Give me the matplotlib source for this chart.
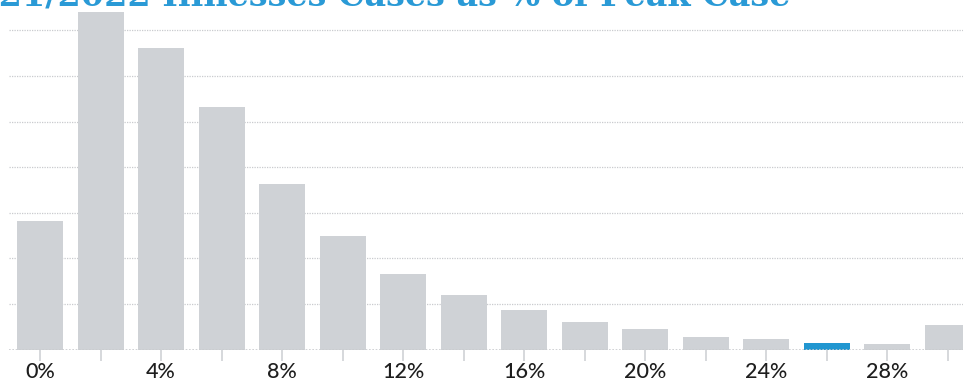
import matplotlib
matplotlib.use("Agg")
import matplotlib.pyplot as plt
from matplotlib.ticker import FixedLocator, FuncFormatter

# Histogram bins: share of peak case (%), bin centres every 2%
bin_pct = [0, 2, 4, 6, 8, 10, 12, 14, 16, 18, 20, 22, 24, 26, 28, 30]
counts = [28.2, 74.0, 66.1, 53.2, 36.3, 24.9, 16.6, 12.0, 8.7, 6.0, 4.5, 2.7, 2.3, 1.4, 1.2, 5.4]
highlight_pct = 26
tick_labels_pct = [0, 4, 8, 12, 16, 20, 24, 28]
title = "2021/2022 Illnesses Cases as % of Peak Case"

GREY = "#cfd2d6"
BLUE = "#2196d0"
GRID = "#c9cbce"

W, H = 963, 381
fig = plt.figure(figsize=(W / 100, H / 100), dpi=100)

# axes box in pixels: left 9, right 975 (runs past the edge), bottom 31.5, top 7.5
left, right, bottom, top = 9, 975, 31.5, H - 7.5
ax = fig.add_axes([left / W, bottom / H, (right - left) / W, (top - bottom) / H])

colors = [BLUE if p == highlight_pct else GREY for p in bin_pct]
ax.bar(bin_pct, counts, width=1.52, color=colors, zorder=3)

ax.set_xlim(-1.025, 30.9)
ax.set_ylim(0, 75)

for y in range(10, 80, 10):
    ax.axhline(y, color=GRID, lw=0.9, ls=(0, (1, 1)), zorder=1)
ax.axhline(0, color=GRID, lw=1.2, ls=(0, (1, 1)), zorder=4)

for s in ax.spines.values():
    s.set_visible(False)
ax.set_yticks([])

ax.xaxis.set_major_locator(FixedLocator(bin_pct))
ax.xaxis.set_major_formatter(
    FuncFormatter(lambda v, _: f"{int(round(v))}%" if int(round(v)) in tick_labels_pct else ""))
ax.tick_params(axis="x", length=8, width=1.2, color="#cfd2d6", pad=1.0,
               labelsize=15.5, labelcolor="#1e1e1e")
for lab in ax.get_xticklabels():
    lab.set_family("Lato")
    lab.set_fontweight("medium")

fig.text(790 / W, (H - 6) / H, title, ha="right", va="baseline",
         fontsize=24, fontweight="bold", family="DejaVu Serif", color="#2a9ad6")

fig.savefig("out.png", dpi=100)
